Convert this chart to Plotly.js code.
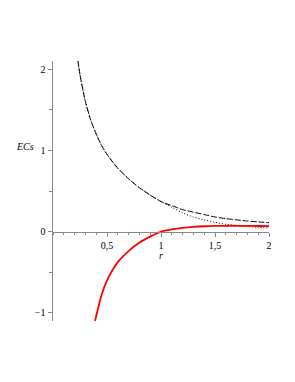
<!DOCTYPE html>
<html>
<head>
<meta charset="utf-8">
<script src="https://cdn.plot.ly/plotly-3.0.1.min.js"></script>
<style>html,body{margin:0;padding:0;background:#fff;}#chart{width:295px;height:382px;}</style>
</head>
<body>
<div id="chart"></div>
<script>
// Dashed curve
const rDash = [0.23, 0.25, 0.3, 0.35, 0.4, 0.45, 0.5, 0.6, 0.7, 0.8, 0.9, 1.0, 1.1, 1.2, 1.3, 1.4, 1.5, 1.6, 1.7, 1.8, 1.9, 2.0];
const ecDash = [2.11, 1.93, 1.60, 1.37, 1.20, 1.06, 0.95, 0.78, 0.65, 0.54, 0.45, 0.37, 0.32, 0.27, 0.24, 0.21, 0.18, 0.16, 0.145, 0.13, 0.12, 0.11];
// Dotted curve (coincides with dashed below r = 1)
const rDot = [0.23, 0.25, 0.3, 0.35, 0.4, 0.45, 0.5, 0.6, 0.7, 0.8, 0.9, 1.0, 1.1, 1.2, 1.3, 1.4, 1.5, 1.6, 1.7, 1.8, 1.9, 2.0];
const ecDot = [2.11, 1.93, 1.60, 1.37, 1.20, 1.06, 0.95, 0.78, 0.65, 0.54, 0.45, 0.37, 0.30, 0.23, 0.18, 0.145, 0.115, 0.09, 0.075, 0.062, 0.052, 0.045];
// Red curve
const rRed = [0.389, 0.4, 0.42, 0.45, 0.5, 0.55, 0.6, 0.7, 0.8, 0.9, 1.0, 1.1, 1.2, 1.3, 1.4, 1.5, 1.6, 1.7, 1.8, 1.9, 2.0];
const ecRed = [-1.10, -1.04, -0.93, -0.78, -0.60, -0.475, -0.375, -0.24, -0.135, -0.062, 0.0, 0.028, 0.047, 0.059, 0.066, 0.07, 0.072, 0.072, 0.071, 0.069, 0.067];

const xTickVals = [0.5, 1, 1.5, 2];
const xTickText = ["0,5", "1", "1,5", "2"];
const yTickVals = [-1, 0, 1, 2];
const yTickText = ["\u22121", "0", "1", "2"];

const yRange = [-1.1, 2.1];
const zeroPos = (0 - yRange[0]) / (yRange[1] - yRange[0]);

const traces = [
  {x: rDot, y: ecDot, mode: 'lines', line: {color: '#000', width: 1, dash: '1px,2px', shape: 'spline', smoothing: 0.6}, hoverinfo: 'skip'},
  {x: rDash, y: ecDash, mode: 'lines', line: {color: '#000', width: 1, dash: '6px,2px', shape: 'spline', smoothing: 0.6}, hoverinfo: 'skip'},
  {x: rRed, y: ecRed, mode: 'lines', line: {color: '#ff0000', width: 1.8, shape: 'spline', smoothing: 0.6}, hoverinfo: 'skip'}
];

const tickFont = {family: 'Liberation Serif', size: 10, color: '#000'};
const layout = {
  width: 295, height: 382,
  margin: {l: 53, r: 26, t: 61, b: 61},
  paper_bgcolor: '#fff', plot_bgcolor: '#fff',
  showlegend: false,
  xaxis: {
    range: [0, 2], showgrid: false, zeroline: false,
    anchor: 'free', position: zeroPos,
    showline: true, linecolor: '#888', linewidth: 1.5,
    tickvals: xTickVals, ticktext: xTickText, ticks: 'outside', ticklen: 4, tickcolor: '#888',
    minor: {dtick: 0.1, tick0: 0, ticks: 'outside', ticklen: 2, tickcolor: '#888', showgrid: false},
    tickfont: tickFont
  },
  yaxis: {
    range: yRange, showgrid: false, zeroline: false,
    showline: true, linecolor: '#888', linewidth: 1.5,
    tickvals: yTickVals, ticktext: yTickText, ticks: 'outside', ticklen: 4, tickcolor: '#888',
    minor: {dtick: 0.5, tick0: 0, ticks: 'outside', ticklen: 3, tickcolor: '#888', showgrid: false},
    tickfont: tickFont
  },
  annotations: [
    {text: '<i>ECs</i>', xref: 'paper', yref: 'paper', x: -0.13, y: 0.67, xanchor: 'center', yanchor: 'middle', showarrow: false, font: tickFont, borderpad: 0},
    {text: '<i>r</i>', xref: 'paper', yref: 'paper', x: 0.5, y: zeroPos - 0.09, xanchor: 'center', yanchor: 'middle', showarrow: false, font: tickFont, borderpad: 0}
  ]
};

Plotly.newPlot('chart', traces, layout, {staticPlot: true, displayModeBar: false});
</script>
</body>
</html>
